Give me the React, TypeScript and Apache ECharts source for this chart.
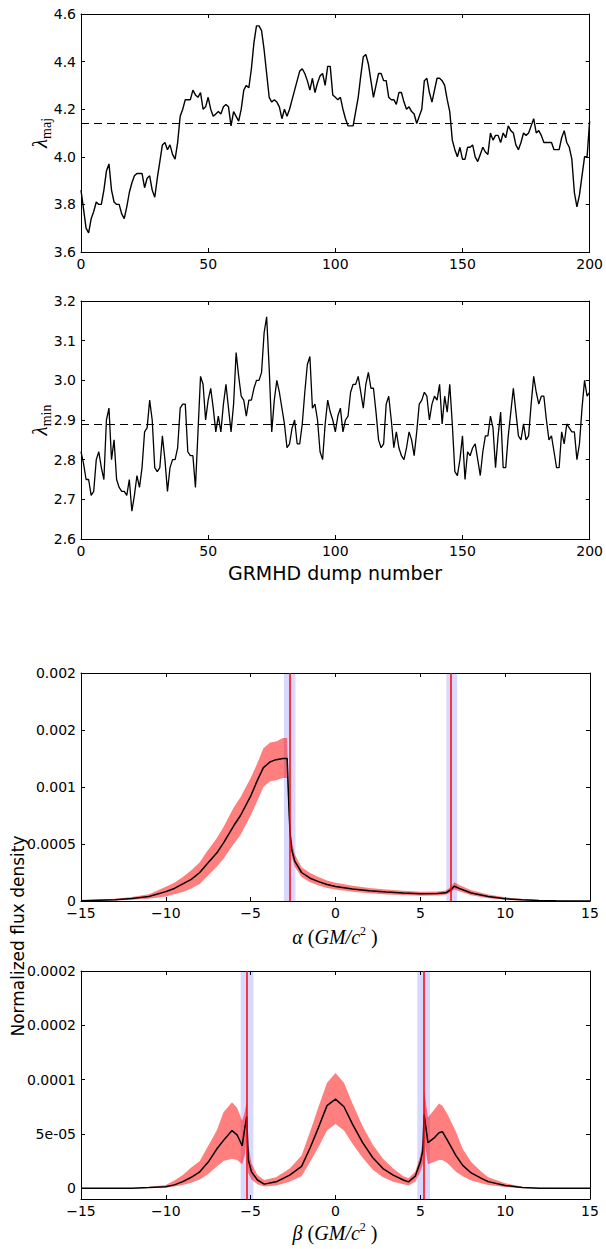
import React, { useEffect, useRef } from "react";
import * as echarts from "echarts";

// ---------- data ----------
const lamMaj = [
  3.86, 3.78, 3.70, 3.68, 3.74, 3.77, 3.81, 3.80, 3.80, 3.86,
  3.94, 3.97, 3.86, 3.81, 3.80, 3.80, 3.76, 3.74, 3.79, 3.85,
  3.89, 3.92, 3.93, 3.93, 3.93, 3.87, 3.91, 3.92, 3.86, 3.83,
  3.91, 3.98, 4.05, 4.06, 4.03, 4.05, 4.01, 3.99, 4.06, 4.17,
  4.20, 4.24, 4.24, 4.24, 4.28, 4.26, 4.25, 4.27, 4.20, 4.21,
  4.25, 4.20, 4.17, 4.18, 4.19, 4.18, 4.21, 4.22, 4.21, 4.13,
  4.19, 4.17, 4.15, 4.20, 4.28, 4.30, 4.29, 4.37, 4.48, 4.55,
  4.55, 4.53, 4.45, 4.35, 4.25, 4.23, 4.24, 4.23, 4.21, 4.16,
  4.20, 4.17, 4.20, 4.24, 4.28, 4.32, 4.36, 4.37, 4.35, 4.32,
  4.28, 4.33, 4.27, 4.31, 4.34, 4.35, 4.30, 4.38, 4.38, 4.26,
  4.25, 4.24, 4.25, 4.20, 4.16, 4.13, 4.13, 4.13, 4.19, 4.25,
  4.34, 4.42, 4.43, 4.39, 4.32, 4.25, 4.30, 4.35, 4.35, 4.32,
  4.32, 4.25, 4.24, 4.24, 4.22, 4.27, 4.27, 4.23, 4.20, 4.21,
  4.19, 4.18, 4.14, 4.17, 4.20, 4.32, 4.33, 4.27, 4.23, 4.28,
  4.33, 4.33, 4.32, 4.30, 4.24, 4.19, 4.07, 4.03, 4.00, 4.04,
  3.99, 3.99, 4.04, 4.04, 4.05, 4.00, 3.98, 4.01, 4.04, 4.02,
  4.01, 4.10, 4.07, 4.09, 4.09, 4.06, 4.10, 4.08, 4.13, 4.11,
  4.10, 4.05, 4.03, 4.06, 4.10, 4.09, 4.10, 4.13, 4.16, 4.10,
  4.11, 4.09, 4.06, 4.06, 4.06, 4.06, 4.03, 4.03, 4.03, 4.08,
  4.11, 4.06, 4.04, 3.99, 3.85, 3.79, 3.84, 3.92, 4.00, 4.00,
  4.15,
];
const lamMajMean = 4.145;

const lamMin = [
  2.82, 2.79, 2.75, 2.75, 2.71, 2.72, 2.80, 2.82, 2.78, 2.75,
  2.90, 2.93, 2.80, 2.85, 2.75, 2.73, 2.72, 2.72, 2.71, 2.75,
  2.67, 2.71, 2.76, 2.73, 2.78, 2.87, 2.88, 2.95, 2.90, 2.78,
  2.77, 2.78, 2.86, 2.80, 2.72, 2.78, 2.80, 2.80, 2.83, 2.93,
  2.94, 2.94, 2.82, 2.81, 2.81, 2.73, 2.87, 3.01, 2.99, 2.90,
  2.95, 2.98, 2.93, 2.87, 2.91, 2.87, 2.94, 2.99, 2.93, 2.87,
  2.94, 3.07, 3.01, 2.96, 2.95, 2.91, 2.95, 2.95, 2.98, 3.00,
  3.00, 3.02, 3.12, 3.16, 3.03, 2.87, 2.95, 3.00, 2.97, 2.93,
  2.89, 2.83, 2.84, 2.88, 2.90, 2.84, 2.84, 2.89, 2.97, 3.04,
  3.06, 2.93, 2.94, 2.90, 2.82, 2.80, 2.89, 2.95, 2.92, 2.90,
  2.87, 2.91, 2.93, 2.87, 2.90, 2.91, 2.97, 2.99, 2.99, 3.01,
  2.97, 2.93, 2.99, 3.02, 2.98, 2.98, 2.92, 2.85, 2.83, 2.84,
  2.94, 2.96, 2.90, 2.83, 2.87, 2.83, 2.81, 2.80, 2.83, 2.87,
  2.85, 2.81, 2.87, 2.94, 2.95, 2.97, 2.96, 2.90, 2.94, 2.96,
  2.95, 2.99, 2.89, 2.96, 2.92, 2.99, 2.89, 2.77, 2.76, 2.80,
  2.86, 2.75, 2.82, 2.81, 2.83, 2.84, 2.80, 2.76, 2.82, 2.86,
  2.86, 2.91, 2.88, 2.78, 2.86, 2.92, 2.78, 2.78, 2.86, 2.92,
  2.98, 2.92, 2.86, 2.85, 2.89, 2.85, 2.86, 2.94, 3.01, 2.97,
  2.94, 2.96, 2.96, 2.90, 2.85, 2.86, 2.82, 2.78, 2.78, 2.87,
  2.84, 2.89, 2.88, 2.87, 2.87, 2.80, 2.84, 2.93, 3.00, 2.96,
  2.97,
];
const lamMinMean = 2.891;

const alphaX = [-15, -13, -12, -11, -10, -9.5, -9, -8.5, -8, -7.6, -7, -6.6, -6, -5.6, -5, -4.6, -4.25, -3.85, -3.5, -3.1, -2.85, -2.74, -2.68, -2.58, -2.4, -2, -1.5, -1, -0.5, 0, 1, 2, 3, 4, 5, 6, 6.5, 6.8, 7, 7.3, 8, 9, 10, 11, 12, 13, 15];
const alphaMean = [0.000003, 0.000012, 0.000022, 0.00004, 0.000082, 0.00011, 0.00015, 0.00019, 0.00025, 0.00032, 0.00042, 0.00051, 0.00066, 0.00075, 0.00092, 0.00106, 0.00117, 0.00122, 0.00124, 0.00125, 0.00125, 0.0008, 0.0006, 0.00045, 0.00035, 0.00025, 0.0002, 0.00017, 0.000145, 0.000128, 0.000105, 0.00009, 0.000078, 0.00007, 0.000063, 0.000065, 0.000072, 0.0001, 0.00013, 0.00011, 0.00007, 0.00004, 0.00002, 0.00001, 0.000005, 0.000002, 0.000001];
const alphaUpper = [0.000006, 0.00002, 0.000035, 0.00006, 0.000125, 0.00016, 0.00021, 0.00027, 0.00034, 0.00043, 0.00055, 0.00065, 0.00082, 0.00091, 0.00108, 0.00121, 0.00134, 0.00139, 0.0014, 0.00143, 0.00143, 0.00088, 0.00066, 0.00053, 0.00041, 0.000295, 0.000245, 0.00021, 0.00018, 0.00016, 0.000133, 0.000115, 0.0001, 0.00009, 0.000082, 0.000083, 0.000092, 0.000122, 0.000165, 0.00014, 0.000095, 0.000058, 0.000032, 0.000017, 0.000009, 0.000004, 0.000001];
const alphaLower = [0.000001, 0.000005, 0.00001, 0.00002, 0.00004, 0.00006, 0.00008, 0.00011, 0.00015, 0.00021, 0.0003, 0.00037, 0.0005, 0.00058, 0.00075, 0.00088, 0.001, 0.00105, 0.00106, 0.00108, 0.00108, 0.00072, 0.00053, 0.00039, 0.0003, 0.00021, 0.000165, 0.000135, 0.000115, 0.0001, 0.000082, 0.000068, 0.000058, 0.000052, 0.000047, 0.000049, 0.000055, 0.000078, 0.0001, 0.000085, 0.00005, 0.000025, 0.00001, 0.000004, 0.000002, 0.000001, 0];
const alphaBands = [[-3.04, -2.36], [6.53, 7.17]];
const alphaLines = [-2.7, 6.82];

const betaX = [-15, -12, -11, -10, -9.5, -9, -8.5, -8, -7.5, -7, -6.6, -6.1, -5.8, -5.5, -5.35, -5.23, -5.14, -4.95, -4.6, -4.2, -3.5, -2.7, -2, -1.5, -1, -0.5, 0, 0.5, 1, 1.6, 2.2, 2.8, 3.4, 4.0, 4.3, 4.7, 5.0, 5.15, 5.22, 5.45, 5.8, 6.1, 6.3, 6.6, 7.1, 7.5, 8, 8.6, 9, 10, 11, 12, 15];
const betaMean = [0, 0, 0.0000005, 0.0000012, 0.000003, 0.000006, 0.00001, 0.000015, 0.000024, 0.000036, 0.000044, 0.000053, 0.000049, 0.000039, 0.000055, 0.000066, 0.000026, 0.000015, 0.0000075, 0.0000037, 0.0000058, 0.000012, 0.00002, 0.000037, 0.000056, 0.000076, 0.000082, 0.000075, 0.000059, 0.000042, 0.000028, 0.000018, 0.000012, 0.0000075, 0.0000058, 0.000011, 0.000024, 0.000035, 0.000068, 0.000042, 0.000046, 0.000051, 0.000052, 0.000044, 0.00003, 0.000021, 0.000014, 0.000009, 0.000006, 0.0000024, 0.0000006, 0, 0];
const betaUpper = [0, 0, 0.000001, 0.000003, 0.000007, 0.000012, 0.000019, 0.000025, 0.000039, 0.000053, 0.00007, 0.000079, 0.000074, 0.000062, 0.00007, 0.00008, 0.00004, 0.000023, 0.000012, 0.0000075, 0.00001, 0.000018, 0.00003, 0.000052, 0.000075, 0.000097, 0.000106, 0.000097, 0.000078, 0.000057, 0.00004, 0.000027, 0.000018, 0.000011, 0.000009, 0.000015, 0.00003, 0.000045, 0.00009, 0.000065, 0.000072, 0.000078, 0.000076, 0.000068, 0.000052, 0.000036, 0.000024, 0.000015, 0.00001, 0.0000045, 0.0000012, 0.0000003, 0];
const betaLower = [0, 0, 0.0000002, 0.0000005, 0.0000015, 0.000003, 0.000005, 0.000008, 0.000013, 0.00002, 0.000025, 0.000027, 0.000026, 0.000022, 0.00003, 0.000045, 0.000014, 0.000008, 0.0000035, 0.0000015, 0.0000025, 0.000006, 0.000011, 0.000024, 0.000038, 0.000053, 0.000059, 0.000053, 0.000041, 0.000028, 0.000017, 0.00001, 0.000006, 0.0000035, 0.0000025, 0.000006, 0.000015, 0.000022, 0.000045, 0.000022, 0.000024, 0.000026, 0.000026, 0.000023, 0.000015, 0.000011, 0.000007, 0.0000045, 0.000003, 0.000001, 0.0000002, 0, 0];
const betaBands = [[-5.59, -4.84], [4.82, 5.57]];
const betaLines = [-5.23, 5.18];

const alphaYTicks = [0, 0.0005, 0.001, 0.0015, 0.002];
const alphaYLabels = ["0", "0.0005", "0.001", "0.002", "0.002"];
const betaYTicks = [0, 0.00005, 0.0001, 0.00015, 0.0002];
const betaYLabels = ["0", "5e-05", "0.0001", "0.0002", "0.0002"];

// ---------- helpers ----------
const FONT = "DejaVu Sans";
const SERIF = "Liberation Serif";

function tickLabel(ticks: number[], labels: string[]) {
  return (v: number) => {
    for (let i = 0; i < ticks.length; i++) {
      if (Math.abs(ticks[i] - v) < 1e-9) return labels[i];
    }
    return "";
  };
}
const minusFmt = (v: number) => String(v).replace("-", "\u2212");

function axisPair(gridIndex: number, base: any, labelFmt: any, isX: boolean) {
  const { customValues, ...rest } = base;
  const common = {
    type: "value",
    gridIndex,
    ...rest,
    splitLine: { show: false },
    axisLine: { show: true, onZero: false, lineStyle: { color: "#000", width: 1 } },
    axisTick: {
      show: true,
      inside: true,
      length: 4,
      lineStyle: { color: "#000", width: 1 },
      ...(customValues ? { customValues } : {}),
    },
  };
  const main = {
    ...common,
    position: isX ? "bottom" : "left",
    axisLabel: {
      show: true,
      color: "#000",
      fontSize: 14,
      fontFamily: FONT,
      margin: 5,
      formatter: labelFmt,
      ...(customValues ? { customValues } : {}),
    },
  };
  const mirror = {
    ...common,
    position: isX ? "top" : "right",
    axisLabel: { show: false },
  };
  return [main, mirror];
}

function bandSeries(xi: number, xs: number[], up: number[], lo: number[]) {
  return {
    type: "custom",
    xAxisIndex: xi,
    yAxisIndex: xi,
    silent: true,
    z: 1,
    data: [[xs[0], 0]],
    renderItem: (params: any, api: any) => {
      if (params.dataIndex !== 0) return null;
      const pts: number[][] = [];
      for (let i = 0; i < xs.length; i++) pts.push(api.coord([xs[i], up[i]]));
      for (let i = xs.length - 1; i >= 0; i--) pts.push(api.coord([xs[i], lo[i]]));
      return {
        type: "polygon",
        shape: { points: pts },
        style: { fill: "rgba(255,0,0,0.5)", stroke: "none" },
      };
    },
  };
}

export default function App() {
  const ref = useRef<HTMLDivElement>(null);
  useEffect(() => {
    if (!ref.current) return;
    const chart = echarts.init(ref.current, undefined, { renderer: "svg" });

    const grids = [
      { left: 81, top: 14, width: 509, height: 238 },
      { left: 81, top: 301, width: 509, height: 238 },
      { left: 81, top: 673, width: 509, height: 228 },
      { left: 81, top: 971, width: 509, height: 228 },
    ];

    const xAxes = [
      ...axisPair(0, { min: 0, max: 200, interval: 50 }, (v: number) => String(v), true),
      ...axisPair(1, { min: 0, max: 200, interval: 50 }, (v: number) => String(v), true),
      ...axisPair(2, { min: -15, max: 15, interval: 5 }, minusFmt, true),
      ...axisPair(3, { min: -15, max: 15, interval: 5 }, minusFmt, true),
    ];
    const yAxes = [
      ...axisPair(0, { min: 3.6, max: 4.6, interval: 0.2 }, (v: number) => v.toFixed(1), false),
      ...axisPair(1, { min: 2.6, max: 3.2, interval: 0.1 }, (v: number) => v.toFixed(1), false),
      ...axisPair(2, { min: 0, max: 0.002, interval: 0.0005 }, tickLabel(alphaYTicks, alphaYLabels), false),
      ...axisPair(3, { min: -0.00001, max: 0.0002, customValues: betaYTicks }, tickLabel(betaYTicks, betaYLabels), false),
    ];

    const dashed = (v: number) => ({
      silent: true,
      symbol: "none",
      label: { show: false },
      lineStyle: { type: [8, 5], color: "#000", width: 1.2 },
      data: [{ yAxis: v }],
    });

    const blueArea = (bands: number[][]) => ({
      silent: true,
      itemStyle: { color: "rgba(0,0,255,0.15)" },
      data: bands.map(([a, b]) => [{ xAxis: a }, { xAxis: b }]),
    });
    const redLines = (xs: number[]) => ({
      silent: true,
      symbol: "none",
      label: { show: false },
      lineStyle: { type: "solid", color: "#ff0000", width: 1.5 },
      data: xs.map((x) => ({ xAxis: x })),
    });

    const series: any[] = [
      {
        type: "line",
        xAxisIndex: 0,
        yAxisIndex: 0,
        data: lamMaj.map((v, i) => [i, v]),
        showSymbol: false,
        symbol: "none",
        lineStyle: { color: "#000", width: 1.4 },
        markLine: dashed(lamMajMean),
      },
      {
        type: "line",
        xAxisIndex: 2,
        yAxisIndex: 2,
        data: lamMin.map((v, i) => [i, v]),
        showSymbol: false,
        symbol: "none",
        lineStyle: { color: "#000", width: 1.3 },
        markLine: dashed(lamMinMean),
      },
      bandSeries(4, alphaX, alphaUpper, alphaLower),
      {
        type: "line",
        xAxisIndex: 4,
        yAxisIndex: 4,
        z: 2,
        data: alphaX.map((x, i) => [x, alphaMean[i]]),
        symbol: "none",
        lineStyle: { opacity: 0 },
        markArea: blueArea(alphaBands),
      },
      {
        type: "line",
        xAxisIndex: 4,
        yAxisIndex: 4,
        z: 3,
        data: alphaX.map((x, i) => [x, alphaMean[i]]),
        symbol: "none",
        lineStyle: { color: "#000", width: 1.5 },
        markLine: redLines(alphaLines),
      },
      bandSeries(6, betaX, betaUpper, betaLower),
      {
        type: "line",
        xAxisIndex: 6,
        yAxisIndex: 6,
        z: 2,
        data: betaX.map((x, i) => [x, betaMean[i]]),
        symbol: "none",
        lineStyle: { opacity: 0 },
        markArea: blueArea(betaBands),
      },
      {
        type: "line",
        xAxisIndex: 6,
        yAxisIndex: 6,
        z: 3,
        data: betaX.map((x, i) => [x, betaMean[i]]),
        symbol: "none",
        lineStyle: { color: "#000", width: 1.5 },
        markLine: redLines(betaLines),
      },
    ];

    const lamRich = {
      l: { fontSize: 21, fontFamily: SERIF, fontStyle: "italic", lineHeight: 26, color: "#000" },
      s: { fontSize: 14, fontFamily: SERIF, lineHeight: 14, verticalAlign: "bottom", color: "#000" },
    };
    const axRich = {
      i: { fontSize: 20, fontFamily: SERIF, fontStyle: "italic", lineHeight: 24, color: "#000" },
      n: { fontSize: 20, fontFamily: SERIF, lineHeight: 24, color: "#000" },
      u: { fontSize: 12, fontFamily: SERIF, lineHeight: 12, verticalAlign: "top", color: "#000" },
    };

    const graphic: any[] = [
      {
        type: "text",
        x: 40,
        y: 133,
        rotation: Math.PI / 2,
        style: { text: "{l|λ}{s|maj}", rich: lamRich, align: "center", verticalAlign: "middle", fill: "#000" },
      },
      {
        type: "text",
        x: 40,
        y: 420,
        rotation: Math.PI / 2,
        style: { text: "{l|λ}{s|min}", rich: lamRich, align: "center", verticalAlign: "middle", fill: "#000" },
      },
      {
        type: "text",
        x: 335,
        y: 573,
        style: { text: "GRMHD dump number", font: `19px "${FONT}"`, align: "center", verticalAlign: "middle", fill: "#000" },
      },
      {
        type: "text",
        x: 335,
        y: 937,
        style: { text: "{i|α}{n| (}{i|GM/c}{u|2}{n| )}", rich: axRich, align: "center", verticalAlign: "middle", fill: "#000" },
      },
      {
        type: "text",
        x: 335,
        y: 1233,
        style: { text: "{i|β}{n| (}{i|GM/c}{u|2}{n| )}", rich: axRich, align: "center", verticalAlign: "middle", fill: "#000" },
      },
      {
        type: "text",
        x: 18,
        y: 936,
        rotation: Math.PI / 2,
        style: { text: "Normalized flux density", font: `17px "${FONT}"`, align: "center", verticalAlign: "middle", fill: "#000" },
      },
    ];

    chart.setOption({
      animation: false,
      backgroundColor: "#fff",
      grid: grids,
      xAxis: xAxes,
      yAxis: yAxes,
      series,
      graphic,
    });
    return () => chart.dispose();
  }, []);

  return (
    <div
      ref={ref}
      style={{ position: "absolute", left: 0, top: 0, width: 606, height: 1249, background: "#fff" }}
    />
  );
}
